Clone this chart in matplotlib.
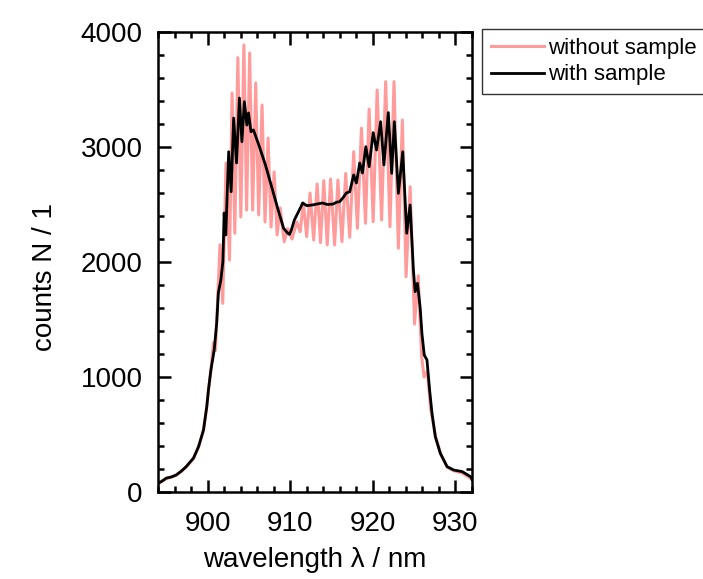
import matplotlib
matplotlib.use('Agg')
import matplotlib.pyplot as plt
from matplotlib.ticker import MultipleLocator

# Espectro sem amostra
lambda_sem = [894.0, 894.5, 895.0, 895.6, 896.2, 896.8, 897.4, 898.3, 898.9, 899.5,
              899.9, 900.1, 900.4, 900.7, 900.95, 901.5, 901.83, 902.23, 902.65, 902.96,
              903.29, 903.66, 904.02, 904.39, 904.72, 905.09, 905.45, 905.82, 906.18, 906.59,
              906.95, 907.32, 907.68, 908.05, 908.41, 908.78, 909.27, 909.7, 910.21, 910.8,
              911.2, 911.59, 911.99, 912.4, 912.84, 913.26, 913.66, 914.06, 914.48, 914.88,
              915.37, 915.77, 916.26, 916.71, 917.2, 917.68, 918.13, 918.62, 919.11, 919.55,
              920.04, 920.52, 921.06, 921.55, 922.07, 922.56, 923.09, 923.57, 924.02, 924.51,
              925.05, 925.49, 925.9, 926.2, 926.6, 927.0, 927.3, 927.6, 928.2, 929.0,
              929.8, 930.8, 931.8, 932.0]
contagens_sem = [70, 95, 115, 130, 145, 180, 215, 290, 390, 535,
                 740, 880, 1060, 1300, 1230, 2150, 1640, 2861, 2017, 3470,
                 2250, 3777, 2391, 3887, 2452, 3817, 2452, 3557, 2409, 3365,
                 2348, 3078, 2304, 2783, 2235, 2470, 2177, 2290, 2200, 2348,
                 2263, 2513, 2220, 2600, 2191, 2678, 2168, 2707, 2148, 2722,
                 2148, 2713, 2177, 2770, 2215, 2959, 2293, 3165, 2337, 3330,
                 2351, 3496, 2365, 3568, 2307, 3568, 2119, 3235, 1872, 2655,
                 1460, 1880, 1180, 1000, 1050, 720, 600, 480, 330, 215,
                 185, 165, 120, 105]

# Espectro com amostra
lambda_com = [894.0, 894.5, 895.0, 895.6, 896.2, 896.8, 897.4, 898.3, 898.9, 899.5,
              899.9, 900.1, 900.4, 900.8, 901.1, 901.3, 901.6, 901.85, 902.0, 902.2,
              902.55, 902.85, 903.15, 903.5, 903.85, 904.15, 904.45, 904.75, 904.95, 905.25,
              905.55, 906.2, 907.0, 907.8, 908.6, 909.2, 909.7, 909.9, 910.1, 910.5,
              911.3, 911.5, 912.0, 912.7, 913.3, 913.9, 914.5, 915.2, 915.6, 915.98,
              916.4, 916.79, 917.2, 917.68, 918.01, 918.41, 918.74, 919.15, 919.55, 920.04,
              920.45, 920.94, 921.34, 921.87, 922.28, 922.6, 923.09, 923.62, 924.1, 924.51,
              924.91, 925.12, 925.4, 925.73, 925.94, 926.22, 926.55, 926.87, 927.16, 927.56,
              928.17, 928.99, 929.79, 930.82, 931.83, 932.0]
contagens_com = [75, 95, 121, 130, 148, 180, 220, 296, 394, 539,
                 742, 887, 1061, 1235, 1470, 1730, 1843, 2003, 2426, 2235,
                 2959, 2611, 3252, 2861, 3426, 3046, 3394, 3191, 3296, 3133,
                 3148, 3017, 2844, 2641, 2437, 2293, 2250, 2240, 2270, 2365,
                 2481, 2513, 2490, 2496, 2505, 2513, 2500, 2504, 2520, 2524,
                 2560, 2600, 2611, 2757, 2687, 2861, 2774, 3003, 2829, 3125,
                 2974, 3220, 2844, 3299, 2771, 3220, 2597, 2959, 2250, 2496,
                 1930, 1742, 1815, 1600, 1380, 1191, 1148, 887, 684, 481,
                 336, 220, 191, 177, 133, 110]

plt.rcParams['font.family'] = ['Liberation Sans', 'DejaVu Sans']
plt.rcParams['font.size'] = 20

fig = plt.figure(figsize=(7.03, 5.79), dpi=100)
ax = fig.add_axes([0.2248, 0.1503, 0.4466, 0.7944])

ax.plot(lambda_sem, contagens_sem, color='#ff9b9b', linewidth=2.2, label='without sample')
ax.plot(lambda_com, contagens_com, color='black', linewidth=2.0, label='with sample')

ax.set_xlim(894, 932)
ax.set_ylim(0, 4000)
ax.xaxis.set_major_locator(MultipleLocator(10))
ax.xaxis.set_minor_locator(MultipleLocator(2))
ax.yaxis.set_major_locator(MultipleLocator(1000))
ax.yaxis.set_minor_locator(MultipleLocator(200))

# Ticks para dentro nos quatro lados
ax.tick_params(which='both', direction='in', top=True, right=True, width=1.8)
ax.tick_params(which='major', length=9, pad=11)
ax.tick_params(axis='x', which='major', pad=14)
ax.tick_params(which='minor', length=4.5)
for lado in ax.spines.values():
    lado.set_linewidth(1.8)

ax.set_xlabel('wavelength λ / nm')
ax.set_ylabel('counts N / 1')
ax.yaxis.set_label_coords(-0.32, 0.467)
ax.xaxis.set_label_coords(0.5, -0.12)

leg = fig.legend(loc='upper left', bbox_to_anchor=(0.686, 0.95), fontsize=16,
                 frameon=True, fancybox=False, handlelength=2.4, borderpad=0.4,
                 labelspacing=0.25, handletextpad=0.15, borderaxespad=0)
leg.get_frame().set_edgecolor('black')
leg.get_frame().set_linewidth(1.0)

fig.savefig('out.png', dpi=100)
